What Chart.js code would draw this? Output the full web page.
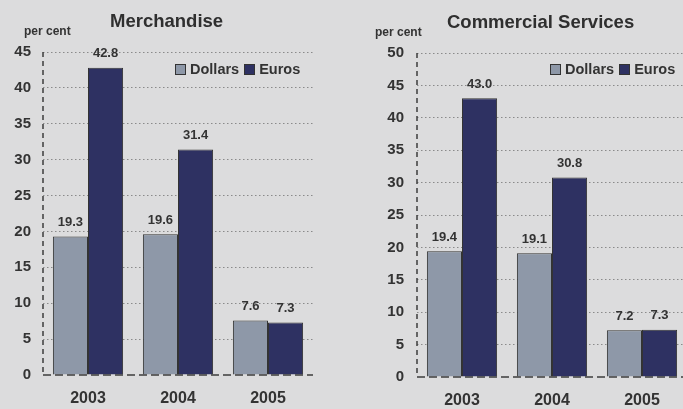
<!DOCTYPE html>
<html>
<head>
<meta charset="utf-8">
<script src="https://cdn.jsdelivr.net/npm/chart.js@4.4.1/dist/chart.umd.min.js"></script>
<style>
  html, body { margin: 0; padding: 0; }
  body {
    width: 683px; height: 409px; overflow: hidden; position: relative;
    background: #dcdcdd;
    font-family: "Liberation Sans", Arial, sans-serif; font-weight: bold; color: #333;
  }
  canvas { position: absolute; top: 0; }
  .txt { position: absolute; white-space: nowrap; line-height: 1; }
  .title { font-size: 18.5px; color: #2f2f2f; }
  .unit { font-size: 12px; color: #333; }
  .legend { font-size: 14.5px; color: #333; display: flex; align-items: center; }
  .legend .sw { width: 9px; height: 9px; border: 1px solid #333; margin-right: 4px; }
  .legend .item { display: flex; align-items: center; margin-right: 5px; }
</style>
</head>
<body>
<canvas id="merch" width="340" height="409" style="left:0"></canvas>
<canvas id="serv" width="360" height="409" style="left:340px"></canvas>

<div class="txt title" style="left:110px; top:12px;">Merchandise</div>
<div class="txt unit" style="left:24px; top:25px;">per cent</div>
<div class="txt legend" id="legMerch" style="left:175px; top:62px;"></div>

<div class="txt title" style="left:447px; top:13px;">Commercial Services</div>
<div class="txt unit" style="left:375px; top:26px;">per cent</div>
<div class="txt legend" id="legServ" style="left:550px; top:62px;"></div>

<script>
// Export growth by currency of denomination, per cent
const years = ['2003', '2004', '2005'];
const seriesNames = ['Dollars', 'Euros'];
const seriesColors = ['#8e98a8', '#2e3162'];

const merchDollars = [19.3, 19.6, 7.6];
const merchEuros = [42.8, 31.4, 7.3];

const servDollars = [19.4, 19.1, 7.2];
const servEuros = [43.0, 30.8, 7.3];

const merchAxisMax = 45;
const servAxisMax = 50;
const tickStep = 5;

const FONT = '"Liberation Sans", Arial, sans-serif';

// Value printed above each bar
const valueLabels = {
  id: 'valueLabels',
  afterDatasetsDraw(chart) {
    const ctx = chart.ctx;
    ctx.save();
    ctx.font = 'bold 13px ' + FONT;
    ctx.fillStyle = '#333';
    ctx.textAlign = 'center';
    ctx.textBaseline = 'middle';
    chart.data.datasets.forEach((ds, di) => {
      chart.getDatasetMeta(di).data.forEach((bar, i) => {
        ctx.fillText(ds.data[i].toFixed(1), bar.x, bar.y - 14);
      });
    });
    ctx.restore();
  }
};

// Dashed value axis and baseline
const dashedAxes = {
  id: 'dashedAxes',
  afterDatasetsDraw(chart) {
    const { ctx, chartArea } = chart;
    const y0 = chart.scales.y.getPixelForValue(0);
    ctx.save();
    ctx.strokeStyle = '#3c3c3c';
    ctx.lineWidth = 1.5;
    ctx.setLineDash([5, 4]);
    ctx.beginPath();
    ctx.moveTo(chartArea.left, chartArea.top);
    ctx.lineTo(chartArea.left, y0);
    ctx.stroke();
    ctx.setLineDash([8, 4]);
    ctx.beginPath();
    ctx.moveTo(chartArea.left, y0);
    ctx.lineTo(chartArea.right, y0);
    ctx.stroke();
    ctx.restore();
  }
};

function buildLegend(id) {
  const el = document.getElementById(id);
  seriesNames.forEach((name, i) => {
    const item = document.createElement('span');
    item.className = 'item';
    const sw = document.createElement('span');
    sw.className = 'sw';
    sw.style.background = seriesColors[i];
    item.appendChild(sw);
    item.appendChild(document.createTextNode(name));
    el.appendChild(item);
  });
}

function makeChart(canvasId, dollars, euros, axisMax, pad, yWidth, xHeight, tickPad) {
  return new Chart(document.getElementById(canvasId), {
    type: 'bar',
    data: {
      labels: years,
      datasets: [dollars, euros].map((values, i) => ({
        label: seriesNames[i],
        data: values,
        backgroundColor: seriesColors[i],
        borderColor: '#333',
        borderWidth: 1,
        barPercentage: 1.0,
        categoryPercentage: 0.78
      }))
    },
    options: {
      responsive: false,
      devicePixelRatio: 1,
      animation: false,
      layout: { padding: pad },
      plugins: { legend: { display: false }, tooltip: { enabled: false }, title: { display: false } },
      scales: {
        x: {
          grid: { display: false, drawTicks: false },
          border: { display: false },
          ticks: { color: '#333', font: { family: FONT, size: 16, weight: 'bold' }, padding: 14 },
          afterFit(scale) { scale.height = xHeight; }
        },
        y: {
          min: 0,
          max: axisMax,
          border: { display: false, dash: [1.5, 2.5] },
          grid: {
            drawTicks: false,
            lineWidth: 1,
            color: (c) => (c.tick && c.tick.value === 0) ? 'rgba(0,0,0,0)' : '#8a8a8a'
          },
          ticks: {
            stepSize: tickStep,
            color: '#333',
            padding: tickPad,
            font: { family: FONT, size: 15, weight: 'bold' }
          },
          afterFit(scale) { scale.width = yWidth; }
        }
      }
    },
    plugins: [valueLabels, dashedAxes]
  });
}

buildLegend('legMerch');
buildLegend('legServ');

makeChart('merch', merchDollars, merchEuros, merchAxisMax,
  { left: 0, right: 27, top: 52, bottom: 0 }, 43, 34, 12);
makeChart('serv', servDollars, servEuros, servAxisMax,
  { left: 34, right: 13, top: 53, bottom: 0 }, 43, 32, 13);
</script>
</body>
</html>
